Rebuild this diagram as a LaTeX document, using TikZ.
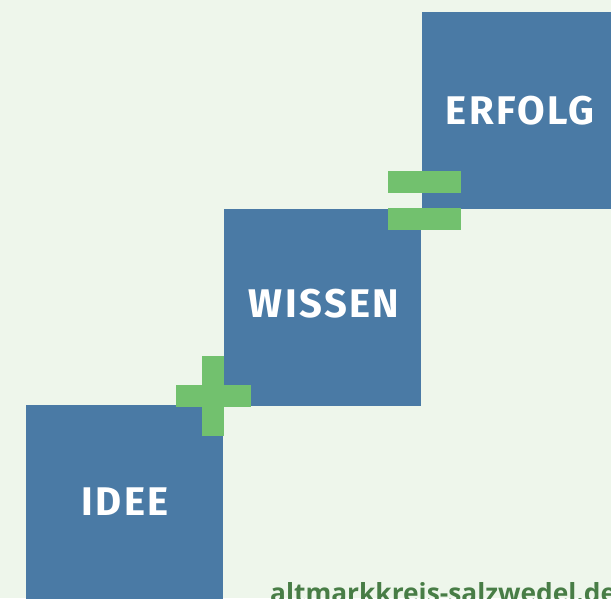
\documentclass[tikz,border=0pt]{standalone}
\usepackage{fontspec}
\newfontfamily\labelfont[LetterSpace=6]{Fira Sans}
\newfontfamily\urlfont{Open Sans}
\definecolor{bgc}{RGB}{238,246,235}
\definecolor{boxblue}{RGB}{74,122,165}
\definecolor{signgreen}{RGB}{114,193,110}
\definecolor{urlgreen}{RGB}{72,125,70}
\tikzset{
  stepbox/.style={fill=boxblue, draw=none, minimum width=197pt, minimum height=197pt, inner sep=0pt, outer sep=0pt},
  boxlabel/.style={text=white, font=\labelfont\bfseries\fontsize{40}{40}\selectfont, inner sep=0pt},
  sign/.style={fill=signgreen, draw=none}
}
\begin{document}
\begin{tikzpicture}[x=1pt,y=-1pt]
\useasboundingbox (0,0) rectangle (611,598);
\clip (0,0) rectangle (611,598);
\fill[bgc] (0,0) rectangle (611,598);
% boxes
\node[stepbox, anchor=north west] (erfolg) at (422,12) {};
\node[stepbox, anchor=north west] (wissen) at (224,209) {};
\node[stepbox, anchor=north west] (idee) at (26,405) {};
\node[boxlabel] (erfolgtxt) at (520,111) {ERFOLG};
\node[boxlabel] (wissentxt) at (324,304) {WISSEN};
\node[boxlabel] (ideetxt) at (125,502) {IDEE};
% plus sign
\fill[sign] (202,356) rectangle (224,436);
\fill[sign] (176,385) rectangle (251,407);
% equals sign
\fill[sign] (388,171) rectangle (461,193);
\fill[sign] (388,208) rectangle (461,230);
% url
\node[anchor=base west, inner sep=0pt, text=urlgreen, font=\urlfont\bfseries\fontsize{26.3}{26.3}\selectfont] (url) at (270,602) {altmarkkreis-salzwedel.de};
\end{tikzpicture}
\end{document}
